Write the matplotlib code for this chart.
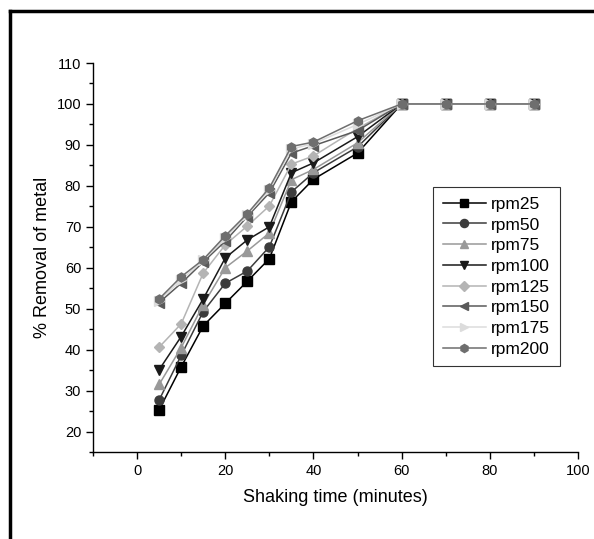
import matplotlib.pyplot as plt
from matplotlib.lines import Line2D
from matplotlib.ticker import MultipleLocator

plt.rcParams['font.family'] = ['Liberation Sans', 'DejaVu Sans']

# shaking time (minutes)
time = [5, 10, 15, 20, 25, 30, 35, 40, 50, 60, 70, 80, 90]

# % removal for each shaking speed
rpm25 = [25.3, 35.8, 45.8, 51.3, 56.7, 62.2, 76.1, 81.6, 88.0, 100, 100, 100, 100]
rpm50 = [27.7, 38.6, 49.3, 56.2, 59.2, 65.1, 78.5, 83.2, 89.5, 100, 100, 100, 100]
rpm75 = [31.5, 40.5, 51.0, 60.0, 64.1, 68.5, 81.5, 84.0, 90.5, 100, 100, 100, 100]
rpm100 = [35.1, 43.2, 52.4, 62.4, 66.8, 70.0, 83.2, 85.6, 92.0, 100, 100, 100, 100]
rpm125 = [40.6, 46.3, 58.7, 65.6, 70.2, 75.1, 85.3, 87.3, 94.0, 100, 100, 100, 100]
rpm150 = [51.5, 56.2, 61.4, 66.5, 72.5, 78.3, 88.0, 89.8, 93.5, 100, 100, 100, 100]
rpm175 = [52.0, 57.0, 61.8, 67.2, 72.9, 79.0, 89.0, 90.3, 95.0, 100, 100, 100, 100]
rpm200 = [52.4, 57.8, 62.0, 67.8, 73.2, 79.5, 89.6, 90.7, 95.9, 100, 100, 100, 100]

series = [
    ('rpm25', rpm25, 's', '#000000'),
    ('rpm50', rpm50, 'o', '#3c3c3c'),
    ('rpm75', rpm75, '^', '#999999'),
    ('rpm100', rpm100, 'v', '#1a1a1a'),
    ('rpm125', rpm125, 'D', '#b4b4b4'),
    ('rpm150', rpm150, '<', '#5a5a5a'),
    ('rpm175', rpm175, '>', '#dcdcdc'),
    ('rpm200', rpm200, 'h', '#6e6e6e'),
]

fig = plt.figure(figsize=(5.94, 5.39), dpi=100)
ax = fig.add_axes([0.1566, 0.1614, 0.8164, 0.7217])

for name, vals, mk, col in series:
    ms = 5.5 if mk == 'D' else 6.5
    ax.plot(time, vals, marker=mk, color=col, markerfacecolor=col,
            markeredgecolor=col, markersize=ms, linewidth=1.1, label=name)

ax.set_xlim(-10, 100)
ax.set_ylim(15, 110)
ax.xaxis.set_minor_locator(MultipleLocator(10))
ax.yaxis.set_minor_locator(MultipleLocator(5))
ax.set_yticks(range(20, 111, 10))
ax.set_xticks(range(0, 101, 20))
ax.tick_params(which='major', direction='out', length=5, width=1, labelsize=10.5)
ax.tick_params(which='minor', direction='out', length=3, width=1)
ax.spines['top'].set_visible(False)
ax.spines['right'].set_visible(False)
ax.spines['left'].set_linewidth(1)
ax.spines['bottom'].set_linewidth(1)

ax.set_xlabel('Shaking time (minutes)', fontsize=13, labelpad=8)
ax.set_ylabel('% Removal of metal', fontsize=13, labelpad=4)

leg = ax.legend(loc='upper left', bbox_to_anchor=(0.701, 0.681), fontsize=12.5,
                frameon=True, fancybox=False, edgecolor='black',
                handlelength=2.5, handletextpad=0.3, labelspacing=0.32,
                borderpad=0.55, borderaxespad=0, markerscale=0.9)
leg.get_frame().set_linewidth(0.8)

# outer page border (left and top)
fig.add_artist(Line2D([0.017, 0.017], [0.0, 0.979], color='black', linewidth=2.5,
                      transform=fig.transFigure))
fig.add_artist(Line2D([0.017, 1.0], [0.979, 0.979], color='black', linewidth=2.5,
                      transform=fig.transFigure))

plt.savefig('out.png', dpi=100)
